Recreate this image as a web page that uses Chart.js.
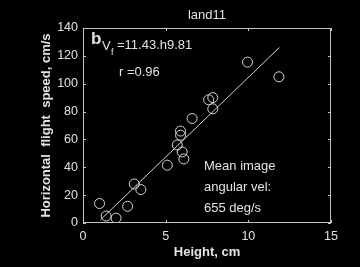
<!DOCTYPE html>
<html>
<head>
<meta charset="utf-8">
<script src="https://cdn.jsdelivr.net/npm/chart.js@4/dist/chart.umd.min.js"></script>
<style>
html, body { margin: 0; padding: 0; background: #000; }
#chart { display: block; }
</style>
</head>
<body>
<canvas id="chart" width="360" height="267"></canvas>
<script>
// measured points (height in cm, flight speed in cm/s)
var heights = [1.0, 1.4, 2.0, 2.7, 3.1, 3.5, 5.1, 5.7, 5.9, 5.9, 6.0, 6.1, 6.6, 7.6, 7.85, 7.85, 9.95, 11.85];
var speeds  = [14, 5, 3.5, 12, 28, 24, 41.5, 56, 66, 63, 51, 46, 75, 88.5, 90, 82, 115.5, 105];

// regression line ends
var fitHeights = [1.05, 11.88];
var fitSpeeds  = [2.2, 126];

var xTicks = [0, 5, 10, 15];
var yTicks = [0, 20, 40, 60, 80, 100, 120, 140];

var fg = '#e2e2e2';
var axisCol = '#c4c4c4';
var fontFam = '"Liberation Sans", Arial, sans-serif';

var boxPlugin = {
    id: 'box',
    afterDraw: function(chart) {
        var ctx = chart.ctx, a = chart.chartArea;
        var xs = chart.scales.x, ys = chart.scales.y;
        ctx.save();
        ctx.strokeStyle = axisCol;
        ctx.lineWidth = 1;
        ctx.strokeRect(a.left + 0.5, a.top + 0.5, a.right - a.left - 1, a.bottom - a.top - 1);
        // inward ticks on all four sides
        ctx.beginPath();
        xTicks.forEach(function(v) {
            var px = Math.round(xs.getPixelForValue(v)) + 0.5;
            ctx.moveTo(px, a.bottom); ctx.lineTo(px, a.bottom - 3);
            ctx.moveTo(px, a.top); ctx.lineTo(px, a.top + 3);
        });
        yTicks.forEach(function(v) {
            var py = Math.round(ys.getPixelForValue(v)) + 0.5;
            ctx.moveTo(a.left, py); ctx.lineTo(a.left + 3, py);
            ctx.moveTo(a.right, py); ctx.lineTo(a.right - 3, py);
        });
        ctx.stroke();

        // texts
        ctx.fillStyle = fg;
        ctx.textBaseline = 'alphabetic';
        ctx.textAlign = 'center';
        ctx.font = '13px ' + fontFam;
        ctx.fillText('land11', (a.left + a.right) / 2, 19);

        ctx.textAlign = 'left';
        ctx.font = 'bold 17px ' + fontFam;
        ctx.fillText('b', 91, 44);
        ctx.font = '13px ' + fontFam;
        ctx.fillText('V', 102, 50);
        ctx.font = '9px ' + fontFam;
        ctx.fillText('f', 111, 55);
        ctx.font = '13px ' + fontFam;
        ctx.fillText('=11.43.h9.81', 117, 49);
        ctx.fillText('r =0.96', 119, 76);
        ctx.fillText('Mean image', 204, 170);
        ctx.fillText('angular vel:', 204, 191);
        ctx.fillText('655 deg/s', 204, 212);
        ctx.restore();
    }
};

new Chart('chart', {
    type: 'scatter',
    data: {
        datasets: [{
            data: heights.map(function(h, i) { return { x: h, y: speeds[i] }; }),
            pointStyle: 'circle',
            pointRadius: 5,
            borderWidth: 1,
            borderColor: '#d4d4d4',
            backgroundColor: 'rgba(0,0,0,0)'
        }, {
            type: 'line',
            data: fitHeights.map(function(h, i) { return { x: h, y: fitSpeeds[i] }; }),
            showLine: true,
            pointRadius: 0,
            borderWidth: 1,
            borderColor: '#d4d4d4',
            fill: false
        }]
    },
    options: {
        responsive: false,
        animation: false,
        devicePixelRatio: 1,
        layout: { padding: { left: 0, right: 29, top: 28, bottom: 0 } },
        plugins: { legend: { display: false }, tooltip: { enabled: false } },
        scales: {
            x: {
                type: 'linear', min: 0, max: 15,
                afterBuildTicks: function(s) { s.ticks = xTicks.map(function(v) { return { value: v }; }); },
                afterFit: function(s) { s.height = 44; },
                grid: { display: false, drawTicks: false },
                border: { display: false },
                ticks: { color: fg, font: { family: fontFam, size: 12.5 }, padding: 6, maxRotation: 0 },
                title: { display: true, text: 'Height, cm', color: fg,
                         font: { family: fontFam, size: 13, weight: 'bold' }, padding: { top: 0, bottom: 7 } }
            },
            y: {
                type: 'linear', min: 0, max: 140,
                afterBuildTicks: function(s) { s.ticks = yTicks.map(function(v) { return { value: v }; }); },
                afterFit: function(s) { s.width = 83; },
                grid: { display: false, drawTicks: false },
                border: { display: false },
                ticks: { color: fg, font: { family: fontFam, size: 12.5 }, padding: 5 },
                title: { display: true, text: 'Horizontal  flight  speed, cm/s', color: fg,
                         font: { family: fontFam, size: 13, weight: 'bold' }, padding: { top: 39, bottom: 0 } }
            }
        }
    },
    plugins: [boxPlugin]
});
</script>
</body>
</html>
